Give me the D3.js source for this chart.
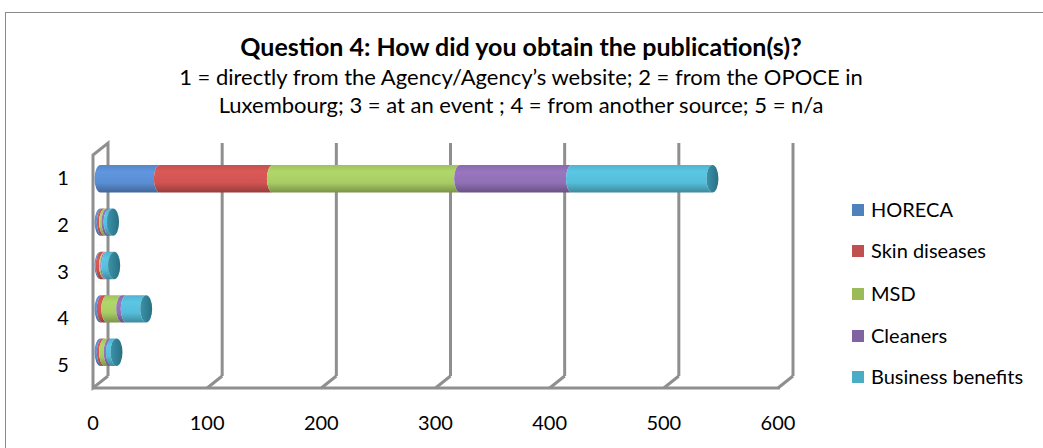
<!DOCTYPE html>
<html><head><meta charset="utf-8">
<script src="https://cdn.jsdelivr.net/npm/d3@7"></script>
<style>body{margin:0;background:#fff}svg{display:block}text{font-family:Lato,'Open Sans',sans-serif;fill:#000}</style>
</head><body><svg id="c" width="1043" height="448"></svg>
<script>
const categories = ["1","2","3","4","5"];
const seriesNames = ["HORECA","Skin diseases","MSD","Cleaners","Business benefits"];
const HORECA = [52, 2, 1, 2, 2];
const SkinDiseases = [99, 2, 3, 4, 2];
const MSD = [164, 2, 1, 13, 4];
const Cleaners = [98, 2, 1, 4, 2];
const BusinessBenefits = [123, 3, 6, 17, 4];
const xTicks = [0,100,200,300,400,500,600];
const legendColors = ["#4f81bd","#c0504d","#9bbb59","#8064a2","#4bacc6"];
const barColors = ["#5a8ed3","#d05452","#a8cc64","#9170b6","#55bdd9"];

const seriesValues = [HORECA, SkinDiseases, MSD, Cleaners, BusinessBenefits];
const rows = categories.map((c,i)=>{const r={cat:c}; seriesNames.forEach((s,j)=>r[s]=seriesValues[j][i]); return r;});
const stack = d3.stack().keys(seriesNames)(rows);

const svg = d3.select("#c");
const defs = svg.append("defs");
barColors.forEach((col,i)=>{
  const g = defs.append("linearGradient").attr("id","g"+i).attr("x1",0).attr("y1",0).attr("x2",0).attr("y2",1);
  const c = d3.color(col);
  g.append("stop").attr("offset","0%").attr("stop-color",c.darker(0.15));
  g.append("stop").attr("offset","25%").attr("stop-color",c.brighter(0.15));
  g.append("stop").attr("offset","65%").attr("stop-color",c);
  g.append("stop").attr("offset","100%").attr("stop-color",c.darker(0.9));
});
const cg = defs.append("linearGradient").attr("id","cap").attr("x1",0).attr("y1",0).attr("x2",1).attr("y2",0);
cg.append("stop").attr("offset","0%").attr("stop-color","#3a93aa");
cg.append("stop").attr("offset","100%").attr("stop-color","#2a6f82");

// outer border
svg.append("rect").attr("x",5.5).attr("y",12.5).attr("width",1100).attr("height",500)
  .attr("fill","none").attr("stroke","#8a8a8a").attr("stroke-width",1);

// title
svg.append("text").attr("x",521).attr("y",56).attr("text-anchor","middle")
  .attr("font-size",25).attr("font-weight","bold")
  .text("Question 4: How did you obtain the publication(s)?");
svg.append("text").attr("x",521).attr("y",85).attr("text-anchor","middle").attr("font-size",22)
  .text("1 = directly from the Agency/Agency’s website; 2 = from the OPOCE in");
svg.append("text").attr("x",521).attr("y",113).attr("text-anchor","middle").attr("font-size",22)
  .text("Luxembourg; 3 = at an event ; 4 = from another source; 5 = n/a");

// 3D geometry
const DX = 15, DY = -12;
const front = {left:93, right:778, top:155, bottom:388};
const x = d3.scaleLinear().domain([0,600]).range([front.left, front.right]);
const y = d3.scaleBand().domain(categories).range([front.top, front.bottom]).padding(0.37);
const yLab = d3.scaleBand().domain(categories).range([front.top, front.bottom]);

const grid = svg.append("g").attr("stroke","#8f8f8f").attr("stroke-width",3).attr("fill","none");
xTicks.forEach(t=>{
  if(t===0) return;
  grid.append("line").attr("x1",x(t)+DX).attr("x2",x(t)+DX).attr("y1",front.top+DY).attr("y2",front.bottom+DY);
  grid.append("line").attr("x1",x(t)).attr("y1",front.bottom).attr("x2",x(t)+DX).attr("y2",front.bottom+DY);
});
grid.append("path").attr("d",`M${x(0)+DX},${front.bottom+DY}V${front.top+DY}L${x(0)},${front.top}V${front.bottom}L${x(0)+DX},${front.bottom+DY}`);
grid.append("line").attr("x1",x(0)).attr("x2",x(600)+2).attr("y1",front.bottom).attr("y2",front.bottom);

// bars at mid depth
const mx = DX/2, my = DY/2, rx = 6;
const bars = svg.append("g").attr("transform",`translate(${mx},${my})`);
stack.forEach((s,i)=>{
  bars.selectAll(null).data(s).join("path")
    .attr("fill",`url(#g${i})`)
    .attr("d",d=>{
      const x0=x(d[0]), x1=x(d[1]), t=y(d.data.cat), b=t+y.bandwidth(), ry=y.bandwidth()/2;
      return `M${x0},${t}L${x1},${t}A${rx},${ry} 0 0 0 ${x1},${b}L${x0},${b}A${rx},${ry} 0 0 1 ${x0},${t}Z`;
    });
});
const last = stack[stack.length-1];
bars.selectAll(null).data(last).join("ellipse")
  .attr("cx",d=>x(d[1])).attr("cy",d=>y(d.data.cat)+y.bandwidth()/2)
  .attr("rx",rx).attr("ry",y.bandwidth()/2).attr("fill","url(#cap)");

// category labels
svg.append("g").selectAll("text").data(categories).join("text")
  .attr("x",63).attr("y",d=>yLab(d)+yLab.bandwidth()/2+7).attr("text-anchor","middle").attr("font-size",20)
  .text(d=>d);
// x tick labels
svg.append("g").selectAll("text").data(xTicks).join("text")
  .attr("x",d=>x(d)).attr("y",430).attr("text-anchor","middle").attr("font-size",20)
  .text(d=>d);

// legend
const lg = svg.append("g");
const ly = [210,251,294,336,377];
seriesNames.forEach((s,i)=>{
  lg.append("rect").attr("x",852).attr("y",ly[i]-6).attr("width",12).attr("height",12).attr("fill",legendColors[i]);
  lg.append("text").attr("x",871).attr("y",ly[i]+7).attr("font-size",20).text(s);
});
</script></body></html>
